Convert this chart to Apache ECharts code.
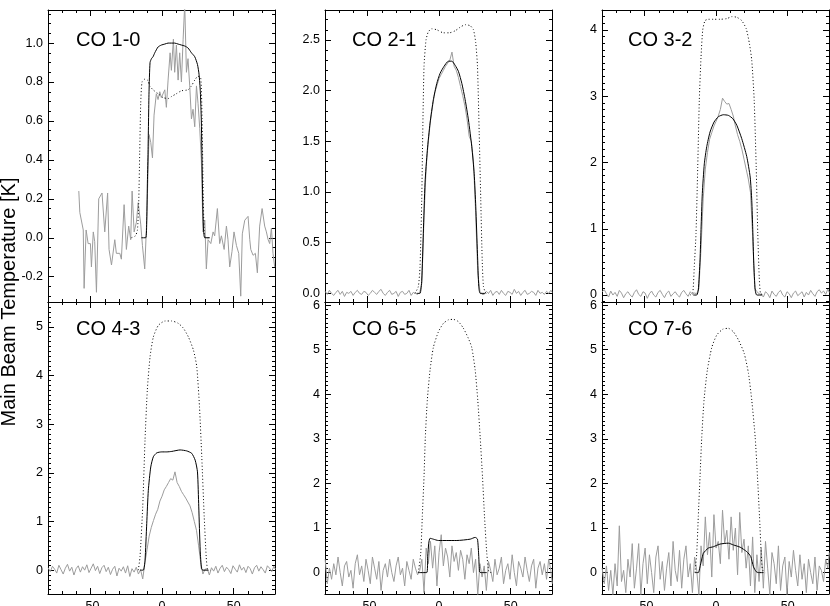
<!DOCTYPE html>
<html>
<head>
<meta charset="UTF-8">
<title>CO ladder spectra</title>
<script src="https://cdn.jsdelivr.net/npm/echarts@6/dist/echarts.min.js"></script>
<style>
  html, body {margin: 0; padding: 0; background: #fff;}
  #chart {width: 830px; height: 606px;}
</style>
</head>
<body>
<div id="chart"></div>
<script>
// channel velocities (km/s) shared by the fine spectra
var chanVel = [
  -79.5,-78,-76.5,-75,-73.5,-72,-70.5,-69,-67.5,-66,
  -64.5,-63,-61.5,-60,-58.5,-57,-55.5,-54,-52.5,-51,
  -49.5,-48,-46.5,-45,-43.5,-42,-40.5,-39,-37.5,-36,
  -34.5,-33,-31.5,-30,-28.5,-27,-25.5,-24,-22.5,-21,
  -19.5,-18,-16.5,-15,
  -13.5,-12,-10.5,-9,-7.5,-6,-4.5,-3,-1.5,0,
  1.5,3,4.5,6,7.5,9,10.5,12,13.5,15,
  16.5,18,19.5,21,22.5,24,25.5,27,28.5,30,
  31.5,33,34.5,36,37.5,39,40.5,42,43.5,45,
  46.5,48,49.5,51,52.5,54,55.5,57,58.5,60,
  61.5,63,64.5,66,67.5,69,70.5,72,73.5,75,
  76.5,78,79
];

// CO 1-0 (coarser channels, [v, T])
var co10Obs = [
  [-58.1,0.24],[-57.4,0.13],[-55,0.04],[-54.4,-0.26],[-53,0.04],[-51.6,-0.03],[-50,-0.03],[-49.3,-0.15],
  [-48,0.03],[-47,-0.02],[-45.8,-0.28],[-44.2,0.2],[-41.9,0.23],[-40,0.03],[-38,0.23],[-37,-0.06],
  [-35.3,-0.14],[-33,-0.01],[-31.9,-0.08],[-29.5,-0.08],[-28.4,-0.11],[-26.5,0.17],[-24.9,-0.06],
  [-23.3,0.06],[-21.9,-0.01],[-20.9,0.24],[-19.5,0.03],[-17.9,0.08],[-16.7,0.18],[-14.9,0.07],
  [-13.7,-0.04],[-12.1,-0.16],[-10.7,0.09],[-9.1,0.53],[-7.9,0.49],[-6.7,0.41],[-5.6,0.63],[-4,0.74],
  [-2.8,0.71],[-1.6,0.75],[-0.5,0.72],[0.7,0.71],[1.9,0.76],[3,0.67],[4.2,0.81],[5.6,0.95],[6.5,0.86],
  [7.9,1.02],[8.8,0.85],[10,0.99],[11.2,0.81],[12.3,0.95],[13.5,0.8],[14.7,1.02],[15.8,1.2],[17,0.85],
  [18.1,0.92],[19.3,0.78],[20.5,0.61],[21.6,0.66],[22.8,0.57],[24,0.78],[25.1,0.69],[26.3,0.56],
  [27.4,0.4],[28.6,0.03],[29.8,0.09],[30.9,-0.16],[32.1,-0.01],[34,-0.03],[35.6,0.03],[36.7,0.01],
  [38.6,0.15],[40.2,-0.03],[41.4,0.01],[43.3,-0.06],[44.9,0.06],[46,-0.01],[47.2,-0.15],[48.8,-0.07],
  [50.2,0.03],[51.9,-0.04],[53.5,-0.08],[54.9,-0.3],[56,0.02],[57.7,0.09],[60,0.11],[61.2,-0.01],
  [61.9,-0.06],[63.5,-0.09],[65.1,-0.08],[66.5,-0.18],[68.1,0.06],[69.8,0.15],[71.6,0.06],[72.8,0.03],
  [74,-0.01],[75.1,-0.03],[76.3,0.05],[77.4,-0.08],[78.6,-0.15]
];
var co10Model = [
  [-14.4,0],[-11.4,0],[-10.7,0.09],[-10.2,0.3],[-9.8,0.44],[-9.1,0.75],[-8.4,0.9],[-7.4,0.92],
  [-6.3,0.93],[-5.1,0.95],[-2.8,0.98],[-0.5,0.99],[1.9,0.995],[4.2,1.0],[6.5,1.0],[8.8,1.0],
  [11.2,0.995],[13.5,0.99],[15.8,0.985],[18.1,0.975],[20.5,0.95],[22.8,0.93],[24.7,0.89],[25.8,0.84],
  [26.7,0.75],[27.4,0.6],[28.1,0.3],[28.8,0.06],[29.8,0],[33.3,0]
];
var co10Lte = [
  [-21.4,0],[-18.6,0.01],[-17.2,0.04],[-16.3,0.18],[-15.6,0.44],[-14.9,0.69],[-14,0.8],[-12.1,0.815],
  [-10.2,0.81],[-8.6,0.78],[-6.3,0.76],[-2.8,0.74],[0.7,0.72],[4.2,0.715],[6.5,0.725],[10,0.74],
  [13.5,0.755],[18.1,0.76],[20.5,0.78],[22.8,0.81],[25.1,0.83],[27,0.82],[27.9,0.61],[28.6,0.27],
  [29.3,0.04],[30.2,0],[32.6,0]
];

// CO 2-1
var co21Obs = [
  0.02,-0.01,0.03,0.00,-0.02,0.01,0.03,-0.01,0.02,-0.03,
  0.01,0.00,0.02,-0.02,0.01,0.03,0.00,-0.01,0.02,0.01,
  -0.02,0.00,0.03,0.01,-0.01,0.02,0.04,0.00,-0.02,0.01,
  0.03,-0.01,0.00,0.02,-0.03,0.01,0.02,-0.01,0.00,0.03,
  -0.02,0.01,0.00,-0.01,
  0.01,0.10,0.75,1.25,1.50,1.70,1.85,1.98,2.05,2.12,
  2.16,2.20,2.24,2.27,2.30,2.38,2.24,2.20,2.13,2.04,
  1.95,1.85,1.72,1.55,1.50,1.30,0.80,0.20,0.02,-0.01,
  -0.01,0.02,0.00,0.03,-0.02,0.01,0.02,-0.01,0.03,0.00,
  -0.02,0.02,0.01,-0.01,0.04,0.00,0.02,-0.02,0.01,0.03,
  -0.01,0.00,0.02,0.01,-0.02,0.03,0.00,0.01,-0.01,0.02,
  0.00,0.03,0.01
];
var co21Model = [
  [-15.6,0],[-13.3,0],[-12.1,0.13],[-11,0.59],[-9.8,1.09],[-8.2,1.41],[-6.3,1.68],[-4,1.91],
  [-1.6,2.07],[0.7,2.17],[3.5,2.24],[6.5,2.29],[8.9,2.29],[11.2,2.25],[13.5,2.19],[15.9,2.07],
  [18.2,1.91],[20.5,1.71],[22.8,1.45],[24.5,1.18],[25.6,0.86],[26.8,0.39],[27.7,0.066],[28.7,0],[32.2,0]
];
var co21Lte = [
  [-16.8,0],[-14.5,0.066],[-13.3,0.26],[-12.1,0.92],[-11.4,1.58],[-10.5,2.24],[-9.1,2.5],[-7.5,2.58],
  [-5.1,2.61],[-1.6,2.6],[3,2.57],[7.2,2.57],[11.2,2.59],[14.7,2.625],[18.2,2.65],[21.7,2.64],
  [24,2.6],[25.6,2.47],[26.8,2.24],[28,1.58],[29.1,0.92],[30.1,0.33],[31,0.066],[32.9,0],[34.5,0]
];

// CO 3-2
var co32Obs = [
  0.05,0.08,0.02,-0.03,0.06,0.00,0.04,-0.02,0.07,0.03,
  -0.04,0.02,0.05,0.00,-0.03,0.04,0.08,0.01,-0.02,0.05,
  0.03,-0.05,0.02,0.06,0.00,-0.03,0.04,0.07,0.01,-0.04,
  0.03,0.06,-0.02,0.02,0.05,0.00,-0.03,0.04,0.07,0.02,
  -0.02,0.05,0.01,0.03,
  0.02,0.10,0.70,1.45,1.90,2.15,2.35,2.45,2.55,2.62,
  2.70,2.80,2.97,2.92,2.88,2.89,2.80,2.70,2.55,2.42,
  2.32,2.20,2.05,1.90,1.75,1.55,0.90,0.10,0.05,0.02,
  0.01,-0.03,0.05,0.02,-0.04,0.06,0.01,-0.02,0.04,0.07,
  0.00,-0.03,0.05,0.02,-0.04,0.03,0.06,-0.01,0.02,0.05,
  -0.03,0.04,0.00,0.07,0.02,-0.02,0.05,0.08,0.03,0.06,
  0.01,0.09,0.04
];
var co32Model = [
  [-15.9,0],[-13.5,0],[-12.4,0.075],[-11.2,0.53],[-10.5,0.99],[-9.6,1.53],[-8.2,1.98],[-6.5,2.24],
  [-4.2,2.46],[-1.4,2.61],[1.6,2.69],[5.1,2.72],[8.6,2.71],[11.7,2.66],[14.5,2.56],[17.9,2.36],
  [21.4,2.09],[23.8,1.78],[24.9,1.43],[25.6,0.99],[26.3,0.48],[27.3,0.075],[28.4,0],[31.9,0]
];
var co32Lte = [
  [-18.2,0],[-16.3,0.025],[-15.2,0.43],[-14,0.93],[-12.8,1.93],[-11.7,2.94],[-10.5,3.59],[-9.3,4.0],
  [-7.7,4.14],[-5.4,4.16],[-1.9,4.16],[2.8,4.16],[7.5,4.17],[11,4.2],[14.5,4.19],[17.9,4.14],
  [21,4.02],[23.3,3.79],[24.9,3.54],[26.6,2.94],[28,1.93],[29.1,0.93],[30.1,0.28],[31,0.025],[33.1,0]
];

// CO 4-3
var co43Obs = [
  0.05,-0.03,0.08,0.02,-0.06,0.10,0.01,-0.08,0.04,0.12,
  -0.02,0.06,-0.10,0.03,0.09,-0.04,0.07,0.00,0.11,-0.05,
  0.04,0.13,-0.01,0.08,-0.07,0.05,0.10,-0.03,0.06,-0.09,
  0.02,0.08,-0.12,0.04,-0.02,0.07,-0.06,0.09,-0.13,0.03,
  -0.04,0.06,-0.08,0.01,
  -0.18,0.15,0.42,0.70,0.88,1.02,1.15,1.25,1.42,1.52,
  1.65,1.72,1.80,1.88,1.85,2.02,1.80,1.72,1.62,1.55,
  1.48,1.40,1.32,1.18,1.00,0.82,0.50,0.15,-0.08,0.02,
  0.03,-0.10,0.05,-0.02,0.08,-0.06,0.04,0.10,-0.03,0.06,
  0.01,-0.07,0.09,0.02,-0.04,0.11,0.00,0.06,-0.05,0.08,
  0.03,-0.08,0.05,0.10,-0.02,0.07,0.01,-0.06,0.09,0.04,
  -0.03,0.08,0.02
];
var co43Model = [
  [-15.4,0],[-13.1,0],[-11.9,0.2],[-10.7,0.96],[-9.6,1.64],[-7.9,2.12],[-6.1,2.33],[-3.7,2.41],
  [-0.2,2.43],[3.3,2.43],[6.8,2.44],[12.6,2.47],[17.2,2.45],[20.7,2.4],[23.1,2.26],[24.7,2.02],
  [25.6,1.3],[26.6,0.41],[27.5,0.03],[28.4,0],[32.4,0]
];
var co43Lte = [
  [-16.6,0],[-15.4,0.27],[-13.5,1.3],[-11.9,2.67],[-10.3,3.7],[-8.4,4.38],[-6.1,4.79],[-2.6,5.03],
  [2.1,5.12],[6.8,5.12],[11.4,5.07],[14.9,4.97],[18.4,4.79],[21.9,4.52],[24.2,4.18],[26.1,3.36],
  [27.7,2.33],[29.4,1.1],[30.8,0.27],[31.7,0.03],[33.6,0]
];

// CO 6-5
var co65Obs = [
  0.30,-0.25,0.10,-0.15,0.20,-0.05,0.35,0.00,-0.30,0.15,
  0.25,-0.10,0.05,-0.35,0.20,0.40,-0.05,0.15,-0.20,0.30,
  0.05,-0.25,0.35,0.10,-0.15,0.25,-0.40,0.05,0.20,-0.10,
  0.30,0.00,-0.20,0.15,0.35,-0.05,0.10,-0.30,0.25,0.05,
  -0.15,0.30,0.10,-0.05,
  0.05,0.30,-0.45,0.55,0.20,0.70,0.10,0.60,-0.30,0.45,
  0.85,0.15,0.55,0.35,-0.10,0.60,0.25,0.45,0.05,0.50,
  0.30,-0.15,0.40,0.20,0.55,0.00,0.30,-0.50,0.20,-0.10,
  0.15,-0.40,0.25,0.05,-0.20,0.30,-0.05,0.10,0.35,-0.25,
  0.05,0.20,-0.15,0.40,0.00,-0.30,0.25,0.10,-0.10,0.35,
  0.05,-0.20,0.15,0.30,-0.35,0.10,0.25,-0.05,0.20,-0.15,
  0.30,0.05,-0.25
];
var co65Model = [
  [-14.5,0],[-8.6,0],[-7.9,0.36],[-7.2,0.66],[-6.3,0.77],[-4,0.75],[-0.5,0.72],[5.4,0.72],
  [12.4,0.72],[21.7,0.75],[25.2,0.79],[26.8,0.75],[27.7,0.36],[28.2,0.02],[29.1,0],[33.3,0]
];
var co65Lte = [
  [-14.5,0],[-12.8,0.43],[-11.7,1.26],[-10.5,2.15],[-9.6,3.03],[-8.2,3.87],[-6.3,4.54],[-4,5.05],
  [-0.5,5.4],[3,5.59],[6.5,5.67],[10,5.68],[13.5,5.63],[17,5.48],[20.5,5.25],[22.8,5.05],
  [25.2,4.54],[27,3.87],[28.7,3.03],[30.3,2.15],[31.7,1.26],[33.3,0.43],[34.7,0.02],[36.4,0]
];

// CO 7-6
var co76Obs = [
  0.10,-0.25,0.15,-0.40,0.05,-0.50,0.20,-0.30,1.05,-0.20,
  0.05,-0.45,0.30,-0.10,0.65,-0.35,0.10,0.65,-0.50,0.20,
  0.55,-0.25,0.40,0.00,-0.45,0.35,0.60,-0.15,0.25,-0.40,
  0.10,0.45,-0.30,0.70,0.05,-0.20,0.50,-0.35,0.30,0.60,
  -0.10,0.20,-0.45,0.35,
  0.05,-0.50,0.60,0.15,1.25,0.40,0.90,-0.10,1.30,0.55,
  0.70,0.20,1.40,0.65,0.95,0.30,1.25,0.50,1.00,-0.05,
  1.35,0.45,0.75,0.10,0.60,-0.30,0.80,-0.45,0.40,-0.20,
  0.55,-0.35,0.70,0.10,-0.50,0.45,0.20,-0.25,0.60,-0.40,
  0.15,0.35,-0.50,0.25,-0.10,0.50,0.05,-0.30,0.40,-0.15,
  0.20,-0.45,0.30,0.00,-0.25,0.35,-0.40,0.15,0.05,-0.20,
  0.30,0.10,0.45
];
var co76Model = [
  [-14.7,0],[-12.4,0],[-11.2,0.13],[-8.9,0.43],[-5.4,0.55],[-1.9,0.58],[2.8,0.64],[8.6,0.66],
  [12.1,0.62],[16.8,0.57],[21.4,0.47],[24.2,0.36],[26.1,0.13],[28,0.02],[29.6,0],[33.1,0]
];
var co76Lte = [
  [-14.7,0],[-13.5,0.43],[-12.4,1.26],[-11.2,2.15],[-10,3.03],[-8.4,3.87],[-6.1,4.54],[-3,5.05],
  [0.5,5.33],[4.7,5.46],[8.6,5.48],[12.1,5.4],[15.6,5.22],[19.6,4.92],[22.6,4.47],[24.9,3.87],
  [27.3,3.03],[28.9,2.15],[30.3,1.26],[31.5,0.43],[32.4,0.06],[34.3,0]
];

// tick labels
var velTicks = [-50, 0, 50];
var co10Ticks = [-0.2, 0.0, 0.2, 0.4, 0.6, 0.8, 1.0];
var co21Ticks = [0.0, 0.5, 1.0, 1.5, 2.0, 2.5];
var co32Ticks = [0, 1, 2, 3, 4];
var co43Ticks = [0, 1, 2, 3, 4, 5];
var co65Ticks = [0, 1, 2, 3, 4, 5, 6];
var co76Ticks = [0, 1, 2, 3, 4, 5, 6];

var FONT = '"Liberation Sans", Arial, Helvetica, sans-serif';
var xMin = -79.6, xMax = 78.8;

function zip(vel, vals) {
  var out = [];
  for (var i = 0; i < Math.min(vel.length, vals.length); i++) out.push([vel[i], vals[i]]);
  return out;
}
function minorTicks(lo, hi, step) {
  var out = [];
  for (var k = Math.ceil(lo / step); k * step <= hi; k++) out.push(Math.round(k * step * 1000) / 1000);
  return out;
}

var panels = [
  {title: 'CO 1-0', obs: co10Obs, model: co10Model, lte: co10Lte, yMin: -0.33, yMax: 1.17, ticks: co10Ticks, minor: 0.05, dec: 1},
  {title: 'CO 2-1', obs: zip(chanVel, co21Obs), model: co21Model, lte: co21Lte, yMin: -0.085, yMax: 2.795, ticks: co21Ticks, minor: 0.1, dec: 1},
  {title: 'CO 3-2', obs: zip(chanVel, co32Obs), model: co32Model, lte: co32Lte, yMin: -0.105, yMax: 4.30, ticks: co32Ticks, minor: 0.1, dec: 0},
  {title: 'CO 4-3', obs: zip(chanVel, co43Obs), model: co43Model, lte: co43Lte, yMin: -0.49, yMax: 5.51, ticks: co43Ticks, minor: 0.1, dec: 0},
  {title: 'CO 6-5', obs: zip(chanVel, co65Obs), model: co65Model, lte: co65Lte, yMin: -0.48, yMax: 6.07, ticks: co65Ticks, minor: 0.1, dec: 0},
  {title: 'CO 7-6', obs: zip(chanVel, co76Obs), model: co76Model, lte: co76Lte, yMin: -0.48, yMax: 6.07, ticks: co76Ticks, minor: 0.1, dec: 0}
];

var colLeft = [48, 325, 602], rowTop = [10, 302];
var gridW = 227, gridH = 292;
var lineCol = '#000';

var grids = [], xAxes = [], yAxes = [], series = [], graphics = [];
var velMinor = minorTicks(-70, 70, 10);

panels.forEach(function (p, i) {
  var col = i % 3, row = Math.floor(i / 3);
  grids.push({left: colLeft[col], top: rowTop[row], width: gridW, height: gridH,
    containLabel: false, outerBoundsMode: 'none'});

  ['bottom', 'top'].forEach(function (pos) {
    xAxes.push({
      gridIndex: i, type: 'value', position: pos, min: xMin, max: xMax,
      axisLine: {onZero: false, lineStyle: {color: lineCol, width: 1}},
      axisTick: {inside: true, length: 6, customValues: velTicks, lineStyle: {color: lineCol}},
      axisLabel: {show: pos === 'bottom' && row === 1, customValues: velTicks, margin: 6,
        fontSize: 12.5, fontFamily: FONT, color: '#000'},
      splitLine: {show: false}
    });
    xAxes.push({
      gridIndex: i, type: 'value', position: pos, min: xMin, max: xMax,
      axisLine: {show: false, onZero: false},
      axisTick: {inside: true, length: 3, customValues: velMinor, lineStyle: {color: lineCol}},
      axisLabel: {show: false}, splitLine: {show: false}
    });
  });

  var yMinor = minorTicks(p.yMin, p.yMax, p.minor);
  ['left', 'right'].forEach(function (pos) {
    yAxes.push({
      gridIndex: i, type: 'value', position: pos, min: p.yMin, max: p.yMax,
      axisLine: {onZero: false, lineStyle: {color: lineCol, width: 1}},
      axisTick: {inside: true, length: 6, customValues: p.ticks, lineStyle: {color: lineCol}},
      axisLabel: {show: pos === 'left', customValues: p.ticks, margin: 5, fontSize: 12.5,
        fontFamily: FONT, color: '#000',
        formatter: function (v) { return v.toFixed(p.dec); }},
      splitLine: {show: false}
    });
    yAxes.push({
      gridIndex: i, type: 'value', position: pos, min: p.yMin, max: p.yMax,
      axisLine: {show: false, onZero: false},
      axisTick: {inside: true, length: 3, customValues: yMinor, lineStyle: {color: lineCol}},
      axisLabel: {show: false}, splitLine: {show: false}
    });
  });

  var ax = 4 * i;
  series.push({type: 'line', xAxisIndex: ax, yAxisIndex: ax, data: p.obs, symbol: 'none', clip: true,
    lineStyle: {color: '#9c9c9c', width: 1}, z: 2});
  series.push({type: 'line', xAxisIndex: ax, yAxisIndex: ax, data: p.lte, symbol: 'none', clip: true,
    smooth: 0.2, lineStyle: {color: '#000', width: 1, type: [1, 2.3]}, z: 3});
  series.push({type: 'line', xAxisIndex: ax, yAxisIndex: ax, data: p.model, symbol: 'none', clip: true,
    smooth: 0.2, lineStyle: {color: '#000', width: 1}, z: 4});

  graphics.push({type: 'text', x: colLeft[col] + 28 - col, y: row === 0 ? 40 : 329,
    style: {text: p.title, font: '20px ' + FONT, fill: '#000',
      align: 'left', verticalAlign: 'middle', textAlign: 'left', textVerticalAlign: 'middle'}});
});

graphics.push({type: 'text', x: 9, y: 302, rotation: Math.PI / 2,
  style: {text: 'Main Beam Temperature [K]', font: '20px ' + FONT, fill: '#000',
    align: 'center', verticalAlign: 'middle', textAlign: 'center', textVerticalAlign: 'middle'}});

var chart = echarts.init(document.getElementById('chart'));
chart.setOption({
  animation: false,
  backgroundColor: '#fff',
  grid: grids,
  xAxis: xAxes,
  yAxis: yAxes,
  series: series,
  graphic: graphics
});
</script>
</body>
</html>
